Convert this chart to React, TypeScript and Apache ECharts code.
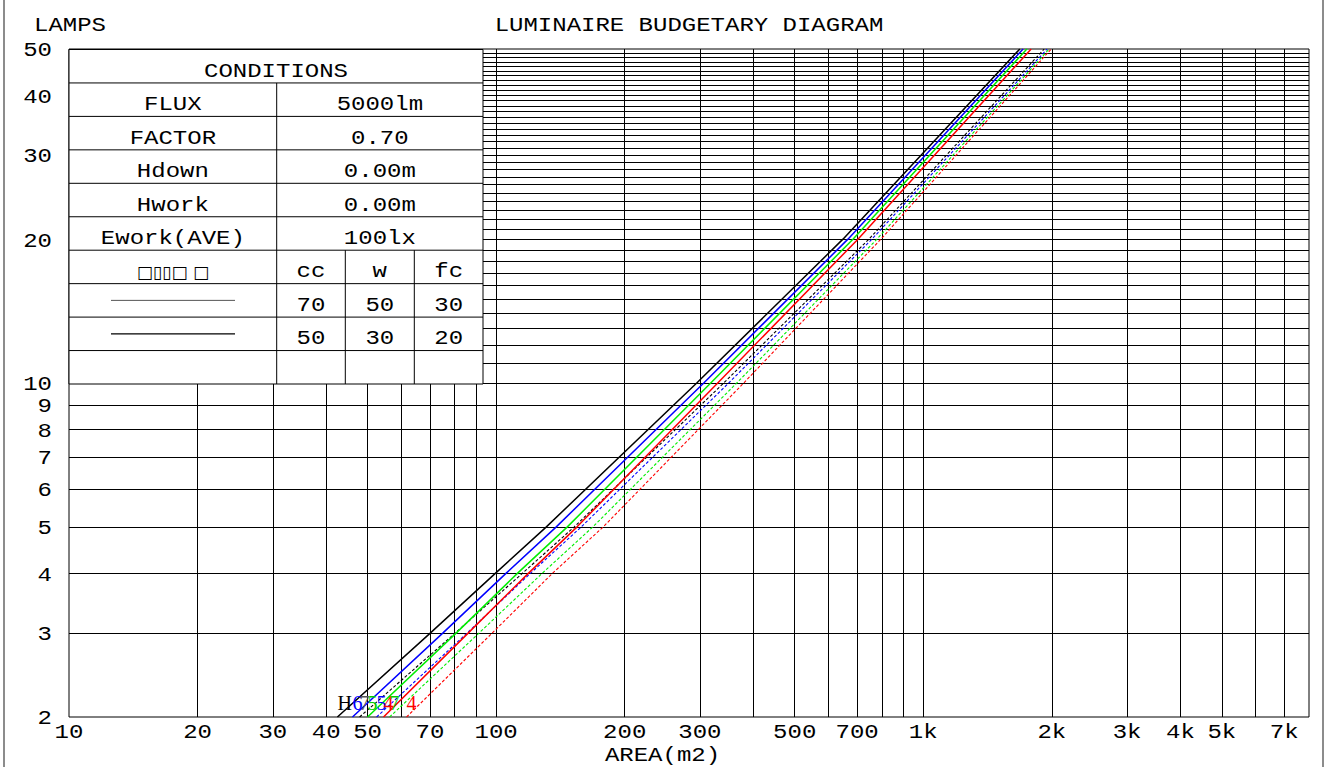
import { useEffect, useRef } from "react";
import * as echarts from "echarts";

// ---- axis ticks / labels ----
const AREA_TICK_VALUES = [10, 20, 30, 40, 50, 70, 100, 200, 300, 500, 700, 1000, 2000, 3000, 4000, 5000, 7000];
const AREA_TICK_LABELS = ["10", "20", "30", "40", "50", "70", "100", "200", "300", "500", "700", "1k", "2k", "3k", "4k", "5k", "7k"];
const LAMP_TICK_VALUES = [2, 3, 4, 5, 6, 7, 8, 9, 10, 20, 30, 40, 50];
const LAMP_TICK_LABELS = ["2", "3", "4", "5", "6", "7", "8", "9", "10", "20", "30", "40", "50"];
const AREA_GRID_LINES = [20, 30, 40, 50, 60, 70, 80, 90, 100, 200, 300, 400, 500, 600, 700, 800, 900, 1000, 2000, 3000, 4000, 5000, 6000, 7000];
const LAMP_GRID_LINES = [3, 4, 5, 6, 7, 8, 9, 10, 11, 12, 13, 14, 15, 16, 17, 18, 19, 20, 21, 22, 23, 24, 25, 26, 27, 28, 29, 30, 31, 32, 33, 34, 35, 36, 37, 38, 39, 40, 41, 42, 43, 44, 45, 46, 47, 48, 49];

// ---- curves: lamps levels and the area read at each level ----
const LAMP_LEVELS = [2, 3, 4, 5, 10, 20, 50];
const AREA_BLACK_SOLID = [42.5, 70.2, 99.7, 131.1, 294.9, 648.6, 1683];
const AREA_BLUE_SOLID = [46.1, 75.1, 105.6, 138.3, 306.3, 666.3, 1713];
const AREA_GREEN_SOLID = [50.0, 80.7, 112.3, 146.8, 318.0, 684.5, 1748];
const AREA_RED_SOLID = [54.5, 86.1, 119.1, 154.7, 330.2, 703.2, 1789];
const AREA_BLACK_DASH = [47.9, 80.3, 115.3, 152.4, 341.1, 746.2, 1919];
const AREA_BLUE_DASH = [52.5, 85.6, 120.4, 158.3, 350.4, 758.3, 1950];
const AREA_GREEN_DASH = [56.3, 91.3, 128.3, 168.5, 365.9, 779.0, 1971];
const AREA_RED_DASH = [61.7, 98.0, 135.6, 178.2, 379.9, 795.9, 1993];
const CURVE_LABELS = ["H", "6", "7", "5", "5", "4", "7", "4"];

// ---- conditions table ----
const CONDITION_NAMES = ["FLUX", "FACTOR", "Hdown", "Hwork", "Ework(AVE)"];
const CONDITION_VALUES = ["5000lm", "0.70", "0.00m", "0.00m", "100lx"];
const REFLECT_HEADERS = ["cc", "w", "fc"];
const REFLECT_SOLID = ["70", "50", "30"];
const REFLECT_DASH = ["50", "30", "20"];

const FONT = "'Liberation Mono', 'DejaVu Sans Mono', monospace";
const SX = 1.2;
const TY = 2.5;

const CURVES = [
  { area: AREA_BLACK_SOLID, color: "#000000", dash: false },
  { area: AREA_BLUE_SOLID, color: "#0000ff", dash: false },
  { area: AREA_BLACK_DASH, color: "#000000", dash: true },
  { area: AREA_GREEN_SOLID, color: "#00ee00", dash: false },
  { area: AREA_BLUE_DASH, color: "#0000ff", dash: true },
  { area: AREA_RED_SOLID, color: "#ff0000", dash: false },
  { area: AREA_GREEN_DASH, color: "#00ee00", dash: true },
  { area: AREA_RED_DASH, color: "#ff0000", dash: true },
];

function txt(text: string, x: number, y: number, align: string = "center", extra: any = {}, sx: number = SX) {
  return {
    type: "text",
    x,
    y: y + TY,
    scaleX: sx,
    z: 120,
    silent: true,
    style: {
      text,
      x: 0,
      y: 0,
      fill: "#000",
      fontFamily: FONT,
      fontSize: 20,
      align,
      verticalAlign: "middle",
      ...extra,
    },
  };
}

function ln(x1: number, y1: number, x2: number, y2: number, stroke = "#000", lineWidth = 1) {
  return { type: "line", z: 115, silent: true, shape: { x1, y1, x2, y2 }, style: { stroke, lineWidth } };
}

export default function App() {
  const ref = useRef<HTMLDivElement>(null);
  useEffect(() => {
    const el = ref.current!;
    const chart = echarts.init(el, undefined, { renderer: "svg" });

    const gridSeries = {
      type: "line",
      data: [],
      silent: true,
      symbol: "none",
      markLine: {
        silent: true,
        animation: false,
        symbol: ["none", "none"],
        label: { show: false },
        emphasis: { disabled: true },
        lineStyle: { color: "#000", width: 1, type: "solid" },
        data: [
          ...LAMP_GRID_LINES.map((v) => ({ yAxis: v })),
          ...AREA_GRID_LINES.map((v) => ({ xAxis: v })),
        ],
      },
    };

    const curveSeries = CURVES.map((c) => ({
      type: "line",
      silent: true,
      symbol: "none",
      showSymbol: false,
      z: 5,
      data: LAMP_LEVELS.map((l, i) => [c.area[i], l]),
      lineStyle: c.dash
        ? { color: c.color, width: 1.1, type: [3, 2] }
        : { color: c.color, width: 1.5, type: "solid" },
    }));

    chart.setOption({
      animation: false,
      grid: { left: 69, top: 49, width: 1240, height: 668, show: true, borderColor: "#000", borderWidth: 1 },
      xAxis: {
        type: "log",
        logBase: 10,
        min: 10,
        max: 8000,
        axisLine: { show: false },
        axisTick: { show: false },
        axisLabel: { show: false },
        splitLine: { show: false },
      },
      yAxis: {
        type: "log",
        logBase: 10,
        min: 2,
        max: 50,
        axisLine: { show: false },
        axisTick: { show: false },
        axisLabel: { show: false },
        splitLine: { show: false },
      },
      series: [gridSeries, ...curveSeries],
    });

    const toPx = (a: number, l: number) => chart.convertToPixel({ gridIndex: 0 }, [a, l]) as number[];

    const g: any[] = [];
    // page frame lines
    g.push(ln(4, 0, 4, 767, "#666", 1.5));
    g.push(ln(1323, 0, 1323, 767, "#666", 1.5));

    // titles
    g.push(txt("LAMPS", 34, 24, "left"));
    g.push(txt("LUMINAIRE BUDGETARY DIAGRAM", 689, 24, "center"));
    g.push(txt("AREA(m2)", 662.5, 753.5, "center"));

    // y labels
    LAMP_TICK_VALUES.forEach((v, i) => {
      const p = toPx(10, v);
      g.push(txt(LAMP_TICK_LABELS[i], 52, p[1], "right"));
    });
    // x labels
    AREA_TICK_VALUES.forEach((v, i) => {
      const p = toPx(v, 2);
      g.push(txt(AREA_TICK_LABELS[i], p[0], p[1] + 14, "center"));
    });

    // curve labels at bottom start
    CURVES.forEach((c, i) => {
      const p = toPx(c.area[0], LAMP_LEVELS[0]);
      g.push({
        type: "text",
        x: p[0],
        y: p[1] - 4,
        z: 125,
        silent: true,
        style: {
          text: CURVE_LABELS[i],
          x: 0,
          y: 0,
          fill: c.color === "#000000" && c.dash ? "#555" : c.color === "#00ee00" ? "#00cc00" : c.color,
          fontFamily: "'Liberation Serif', serif",
          fontSize: 20,
          align: "left",
          verticalAlign: "bottom",
        },
      });
    });

    // conditions table
    const x0 = 69, x1 = 483, y0 = 49.5, rowH = 33.45;
    const cMid = 276.7;
    const sub = [276.7, 345.3, 414.3, 483];
    const rowY = (i: number) => y0 + i * rowH;
    const rowC = (i: number) => y0 + (i + 0.5) * rowH + 3;
    g.push({ type: "rect", z: 110, silent: true, shape: { x: x0, y: y0, width: x1 - x0, height: rowH * 10 }, style: { fill: "#fff", stroke: "#000", lineWidth: 1 } });
    for (let i = 1; i < 10; i++) g.push(ln(x0, rowY(i), x1, rowY(i)));
    g.push(ln(cMid, rowY(1), cMid, rowY(10)));
    g.push(ln(sub[1], rowY(6), sub[1], rowY(10)));
    g.push(ln(sub[2], rowY(6), sub[2], rowY(10)));
    g.push(txt("CONDITIONS", (x0 + x1) / 2, rowC(0)));
    CONDITION_NAMES.forEach((n, i) => {
      g.push(txt(n, (x0 + cMid) / 2, rowC(i + 1)));
      g.push(txt(CONDITION_VALUES[i], (cMid + x1) / 2, rowC(i + 1)));
    });
    g.push(txt("□▯▯□ □", (x0 + cMid) / 2, rowC(6), "center", { fontFamily: "'DejaVu Sans', sans-serif", fontSize: 17 }, 1));
    REFLECT_HEADERS.forEach((h, j) => {
      const cx = (sub[j] + sub[j + 1]) / 2;
      g.push(txt(h, cx, rowC(6)));
      g.push(txt(REFLECT_SOLID[j], cx, rowC(7)));
      g.push(txt(REFLECT_DASH[j], cx, rowC(8)));
    });
    g.push(ln(111, y0 + 7.5 * rowH, 235, y0 + 7.5 * rowH, "#555", 1));
    g.push(ln(111, y0 + 8.5 * rowH, 235, y0 + 8.5 * rowH, "#000", 1.2));

    chart.setOption({ graphic: g });
    return () => chart.dispose();
  }, []);
  return (
    <div
      ref={ref}
      style={{ position: "fixed", left: 0, top: 0, width: 1328, height: 767, background: "#fff" }}
    />
  );
}
